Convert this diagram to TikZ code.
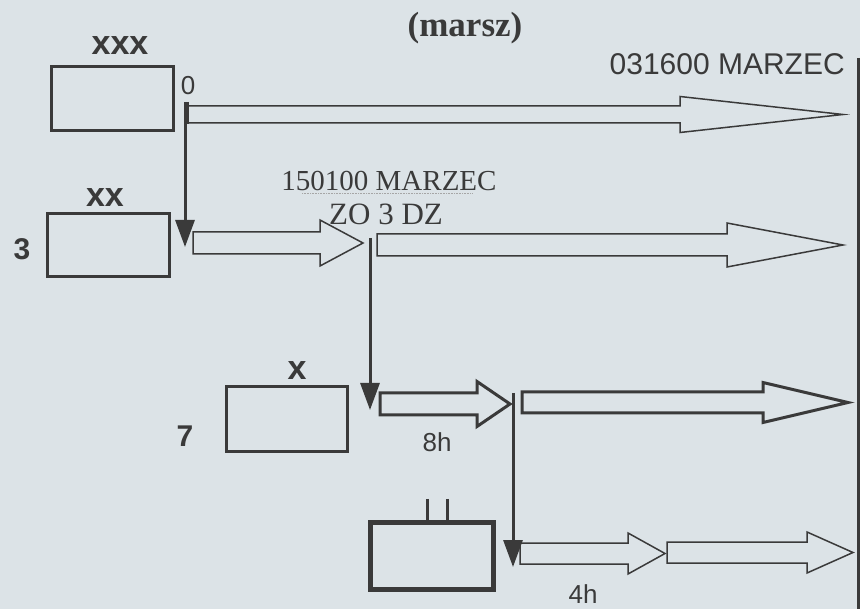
\documentclass[tikz,border=0pt]{standalone}
\usepackage{fontspec}
\setmainfont{Liberation Serif}
\setsansfont{Liberation Sans}
\usetikzlibrary{arrows.meta}
\definecolor{bg}{HTML}{DCE3E7}
\definecolor{ink}{HTML}{3A3A3A}
\tikzset{
  box/.style={draw=ink,line width=3pt,minimum width=#1,inner sep=0pt},
  lbl/.style={font=\fontsize{34}{36}\sffamily\bfseries,text=ink,inner sep=0pt},
  num/.style={font=\fontsize{30}{31}\sffamily\bfseries,text=ink,inner sep=0pt},
  small/.style={font=\fontsize{26}{28}\sffamily,text=ink,inner sep=0pt},
  serif/.style={font=\fontsize{29}{30}\rmfamily,text=ink,inner sep=0pt},
  down/.style={draw=ink,line width=3pt,-{Triangle[length=27pt,width=19pt]}},
  pics/fat/.style n args={5}{code={
    \draw[draw=ink,line width=#5,line join=miter] (0,-#3) -- (#1-#2,-#3) -- (#1-#2,-#4) -- (#1,0) -- (#1-#2,#4) -- (#1-#2,#3) -- (0,#3) -- cycle;
  }},
}
\begin{document}
\begin{tikzpicture}[x=1pt,y=-1pt]
\fill[bg] (0,0) rectangle (860,609);
\useasboundingbox (0,0) rectangle (860,609);

% title
\node[font=\fontsize{35}{36}\rmfamily\bfseries,text=ink,inner sep=0pt] (title) at (465,28) {(marsz)};

% boxes
\node[box=122pt,minimum height=64pt] (b3) at (112,99) {};
\node[box=122pt,minimum height=63pt] (b2) at (108,245.5) {};
\node[box=121pt,minimum height=65pt] (b1) at (286.5,419.5) {};
\node[box=123pt,minimum height=66pt,line width=5pt] (b0) at (431.5,556) {};
\draw[ink,line width=3pt] (427,499) -- (427,523) (447,499) -- (447,523);

% labels
\node[lbl] (lxxx) at (120,46) {xxx};
\node[lbl] (lxx) at (105,198) {xx};
\node[lbl] (lx) at (297,371) {x};
\node[num] (n3) at (22,249) {3};
\node[num] (n7) at (185,436) {7};
\node[small] (n0) at (188,86) {0};
\node[small] (h8) at (437,442) {8h};
\node[small] (h4) at (583,594) {4h};
\node[font=\fontsize{30}{32}\sffamily,text=ink,inner sep=0pt,anchor=east] (mar) at (845,64) {031600 MARZEC};
\node[serif] (m150) at (389,181) {150100 MARZEC};
\node[serif,font=\fontsize{31}{32}\rmfamily] (zo) at (386,214) {ZO 3 DZ};
\draw[gray!70,line width=0.6pt,densely dotted] (302,193) -- (472,193);

% right bar
\draw[ink,line width=3pt] (858,58) -- (858,609);

% fat arrows
\pic at (187,114.5) {fat={656}{163}{8.5}{18}{1.5pt}};
\draw[ink,line width=4pt] (187,102) -- (187,124);
\pic at (193,243) {fat={170}{43}{11}{23}{1.5pt}};
\pic at (377,245) {fat={466}{116}{11}{22}{1.5pt}};
\pic at (380,404) {fat={130}{33}{11}{22.5}{3pt}};
\pic at (522,402.5) {fat={326}{85}{10.5}{20}{3pt}};
\pic at (520,553.5) {fat={145}{37}{10.5}{20.5}{1.5pt}};
\pic at (667,552.5) {fat={186}{46}{10.5}{20.5}{1.5pt}};

% vertical connectors
\coordinate (v1s) at (185,102);
\coordinate (v1e) at (185,247);
\coordinate (v2s) at (370,238);
\coordinate (v2e) at (370,410);
\coordinate (v3s) at (513,393);
\coordinate (v3e) at (513,567);
\draw[down] (v1s) -- (v1e);
\draw[down] (v2s) -- (v2e);
\draw[down] (v3s) -- (v3e);
\end{tikzpicture}
\end{document}
